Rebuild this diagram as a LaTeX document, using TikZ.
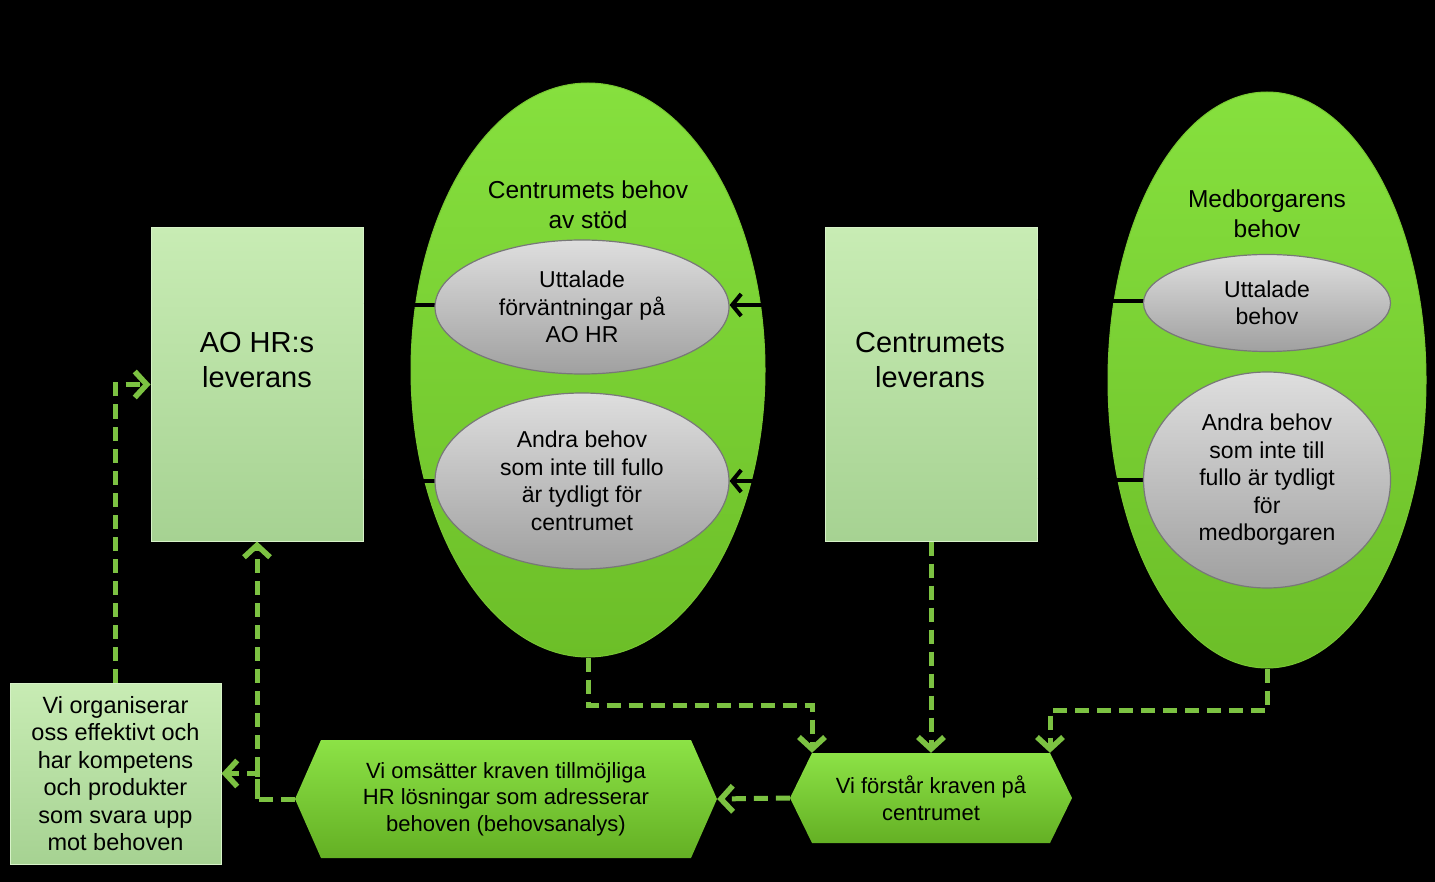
\documentclass[tikz,border=0pt]{standalone}
\usepackage{fontspec}
\setmainfont{Liberation Sans}
\usetikzlibrary{arrows.meta,shapes.geometric,calc}
\definecolor{flowgreen}{RGB}{124,194,66}
\definecolor{ovTop}{RGB}{134,224,62}
\definecolor{ovBot}{RGB}{108,190,40}
\definecolor{boxTop}{RGB}{200,236,180}
\definecolor{boxBot}{RGB}{166,210,146}
\definecolor{hexTop}{RGB}{140,226,70}
\definecolor{hexBot}{RGB}{100,176,36}
\definecolor{greyTop}{RGB}{222,222,222}
\definecolor{greyBot}{RGB}{160,160,160}
\begin{document}
\begin{tikzpicture}[x=1pt,y=-1pt,
  bigtext/.style={align=center,font=\fontsize{29}{35}\selectfont,text=black},
  midtext/.style={align=center,font=\fontsize{24.5}{30}\selectfont,text=black},
  smalltext/.style={align=center,font=\fontsize{23.5}{27.5}\selectfont,text=black},
  lightbox/.style={rectangle,inner sep=0pt,top color=boxTop,bottom color=boxBot,draw={rgb,255:red,215;green,242;blue,200},line width=1pt},
  outerov/.style={ellipse,inner sep=0pt,top color=ovTop,bottom color=ovBot,draw={rgb,255:red,120;green,200;blue,50},line width=1pt},
  innerov/.style={ellipse,inner sep=0pt,top color=greyTop,bottom color=greyBot,draw={rgb,255:red,120;green,120;blue,120},line width=1.2pt,align=center,font=\fontsize{23}{27.5}\selectfont},
  hexnode/.style={rectangle,inner sep=0pt,align=center,font=\fontsize{22}{26.5}\selectfont,
    path picture={\shade[top color=hexTop,bottom color=hexBot]
      (path picture bounding box.west) -- ([xshift=#1]path picture bounding box.north west)
      -- ([xshift=-#1]path picture bounding box.north east) -- (path picture bounding box.east)
      -- ([xshift=-#1]path picture bounding box.south east) -- ([xshift=#1]path picture bounding box.south west) -- cycle;}},
  flow/.style={draw=flowgreen,line width=5pt,dash pattern=on 14pt off 8pt,
    -{Straight Barb[length=12pt,width=26pt,line width=5.5pt]}},
  blk/.style={draw=black,line width=4pt},
  blkarrow/.style={draw=black,line width=4pt,-{Straight Barb[length=9pt,width=22pt,line width=4pt]}}
]
\fill[black] (0,0) rectangle (1435,882);
\useasboundingbox (0,0) rectangle (1435,882);

% boxes
\node[lightbox,minimum width=212pt,minimum height=313pt] (ao) at (257,384.5) {};
\node[bigtext] (aot) at (257,360) {AO HR:s\\leverans};
\node[lightbox,minimum width=212pt,minimum height=313pt] (cl) at (931,384.5) {};
\node[bigtext] (clt) at (930,360) {Centrumets\\leverans};
\node[lightbox,minimum width=211pt,minimum height=181pt,smalltext] (org) at (115.5,773.5)
  {Vi organiserar\\oss effektivt och\\har kompetens\\och produkter\\som svara upp\\mot behoven};

% outer ellipses
\node[outerov,minimum width=354pt,minimum height=574pt] (e1) at (588,370) {};
\node[midtext] (e1t) at (588,205) {Centrumets behov\\av stöd};
\node[outerov,minimum width=318pt,minimum height=576pt] (e2) at (1267,380) {};
\node[midtext] (e2t) at (1267,214) {Medborgarens\\behov};

% inner ellipse positions
\coordinate (u1c) at (582,307);
\coordinate (a1c) at (582,481);
\coordinate (u2c) at (1267,303);
\coordinate (a2c) at (1267,480);

% black connectors (drawn before inner ellipses)
\draw[blk] (ao.east |- 0,305) -- (440,305);
\draw[blk] (ao.east |- 0,481) -- (440,481);
\draw[blk] (cl.east |- 0,301) -- (1150,301);
\draw[blk] (cl.east |- 0,480) -- (1150,480);

% inner ellipses
\node[innerov,minimum width=294pt,minimum height=134pt] (u1) at (u1c) {Uttalade\\förväntningar på\\AO HR};
\node[innerov,minimum width=294pt,minimum height=176pt] (a1) at (a1c) {Andra behov\\som inte till fullo\\är tydligt för\\centrumet};
\node[innerov,minimum width=247pt,minimum height=97pt] (u2) at (u2c) {Uttalade\\behov};
\node[innerov,minimum width=247pt,minimum height=216pt] (a2) at (a2c) {Andra behov\\som inte till\\fullo är tydligt\\för\\medborgaren};

\draw[blkarrow] (cl.west |- 0,305) -- (u1.east |- 0,305);
\draw[blkarrow] (cl.west |- 0,481) -- (a1.east |- 0,481);

% hexagons
\node[hexnode=26pt,minimum width=422pt,minimum height=118pt] (h1) at (506,799)
  {Vi omsätter kraven tillmöjliga\\HR lösningar som adresserar\\behoven (behovsanalys)};
\node[hexnode=22pt,minimum width=282pt,minimum height=90pt] (h2) at (931,798)
  {Vi förstår kraven på\\centrumet};

% dashed flows
\coordinate (c1) at (812,705);
\coordinate (c2) at (1050,710);
\coordinate (j1) at (257,799);
\draw[flow] (org.north) |- (ao.west);
\draw[flow] (h1.west) -- (j1) -- (ao.south);
\draw[flow] (j1) |- (org.east);
\draw[flow] (h2.west) -- (h1.east);
\draw[flow] (e1.south) |- (c1) -- (c1 |- h2.north);
\draw[flow] (cl.south) -- (cl.south |- h2.north);
\draw[flow] (e2.south) |- (c2) -- (c2 |- h2.north);
\end{tikzpicture}
\end{document}
